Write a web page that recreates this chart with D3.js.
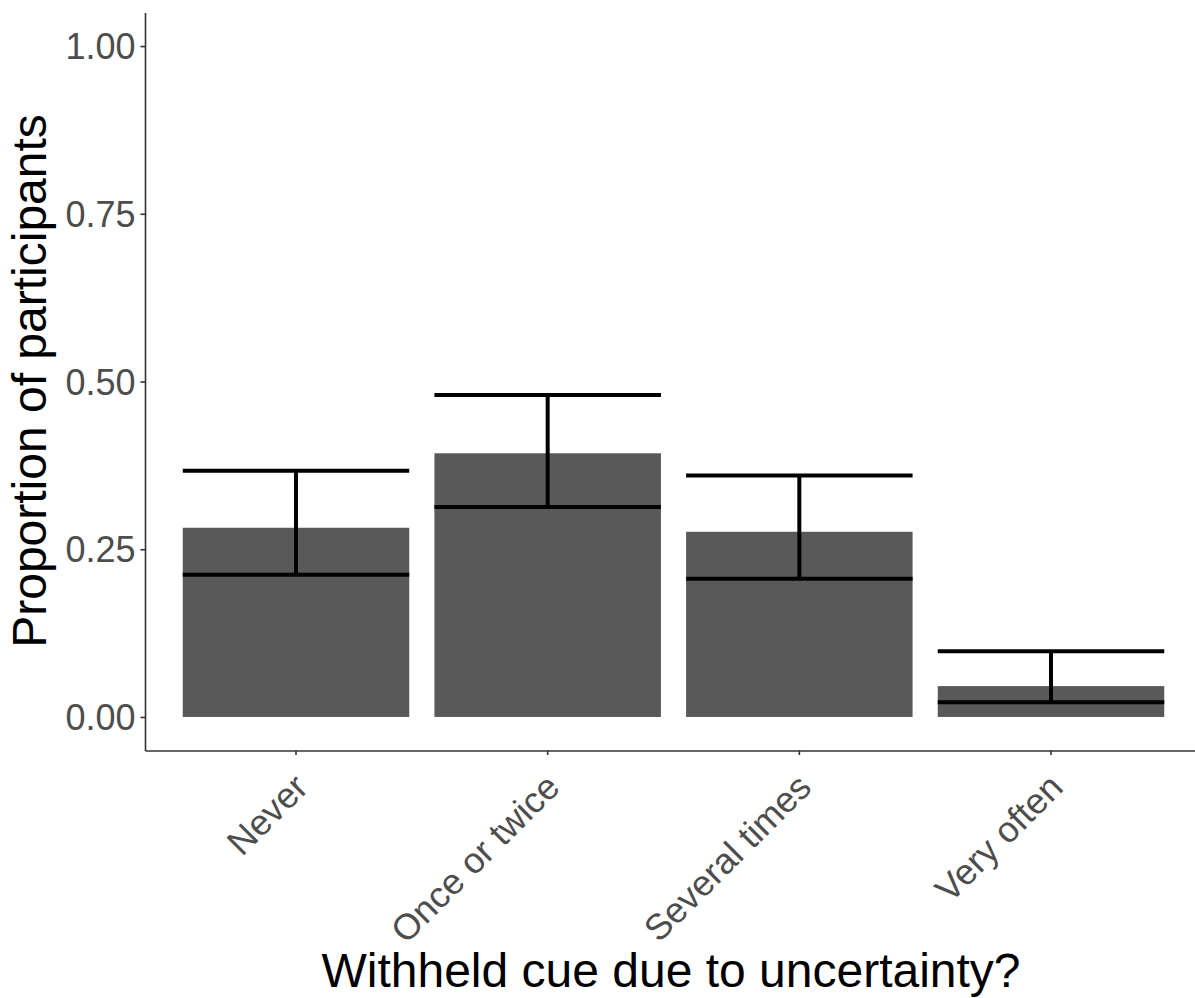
<!DOCTYPE html>
<html>
<head>
<meta charset="utf-8">
<script src="https://cdn.jsdelivr.net/npm/d3@7"></script>
<style>
  body { margin: 0; background: #fff; }
  svg { display: block; font-family: "Liberation Sans", Arial, sans-serif; }
</style>
</head>
<body>
<div class="chart"></div>
<script>
// values
var categories = ["Never", "Once or twice", "Several times", "Very often"];
var proportion = [0.282, 0.393, 0.276, 0.046];
var ciLower = [0.212, 0.313, 0.206, 0.022];
var ciUpper = [0.367, 0.480, 0.360, 0.098];
var yTicks = [0, 0.25, 0.5, 0.75, 1];

var width = 1195, height = 998;

var svg = d3.select(".chart").append("svg")
    .attr("width", width)
    .attr("height", height);

var x = d3.scaleBand()
    .domain(categories)
    .range([145, 1202])
    .paddingInner(0.1)
    .paddingOuter(0.15);

var y = d3.scaleLinear()
    .domain([-0.05, 1.05])
    .range([750.5, 12.5]);

var data = categories.map(function(c, i){
    return {cat: c, p: proportion[i], lo: ciLower[i], hi: ciUpper[i]};
});

// bars
svg.selectAll(".bar")
    .data(data)
    .enter().append("rect")
    .attr("class", "bar")
    .attr("x", function(d){ return x(d.cat); })
    .attr("width", x.bandwidth())
    .attr("y", function(d){ return y(d.p); })
    .attr("height", function(d){ return y(0) - y(d.p); })
    .attr("fill", "#595959");

// error bars
var eb = svg.selectAll(".err")
    .data(data)
    .enter().append("g")
    .attr("class", "err")
    .attr("stroke", "#000")
    .attr("stroke-width", 4);

eb.append("line")
    .attr("x1", function(d){ return x(d.cat) + x.bandwidth() / 2; })
    .attr("x2", function(d){ return x(d.cat) + x.bandwidth() / 2; })
    .attr("y1", function(d){ return y(d.lo); })
    .attr("y2", function(d){ return y(d.hi); });

eb.append("line")
    .attr("x1", function(d){ return x(d.cat); })
    .attr("x2", function(d){ return x(d.cat) + x.bandwidth(); })
    .attr("y1", function(d){ return y(d.hi); })
    .attr("y2", function(d){ return y(d.hi); });

eb.append("line")
    .attr("x1", function(d){ return x(d.cat); })
    .attr("x2", function(d){ return x(d.cat) + x.bandwidth(); })
    .attr("y1", function(d){ return y(d.lo); })
    .attr("y2", function(d){ return y(d.lo); });

// y axis
var yAxis = svg.append("g")
    .attr("transform", "translate(145,0)")
    .call(d3.axisLeft(y).tickValues(yTicks).tickFormat(d3.format(".2f"))
        .tickSizeInner(4.5).tickSizeOuter(0).tickPadding(5));

// x axis
var xAxis = svg.append("g")
    .attr("transform", "translate(0,750.5)")
    .call(d3.axisBottom(x).tickSizeInner(4.5).tickSizeOuter(0));

[xAxis, yAxis].forEach(function(g){
    g.select(".domain").attr("stroke", "#333").attr("stroke-width", 1.6);
    g.selectAll(".tick line").attr("stroke", "#333").attr("stroke-width", 1.6);
    g.selectAll("text").attr("fill", "#4d4d4d").style("font-size", "36px");
});

xAxis.selectAll(".tick text")
    .attr("text-anchor", "end")
    .attr("x", 0)
    .attr("y", 0)
    .attr("dy", "0.9em")
    .attr("transform", "translate(-9,16) rotate(-45)");

yAxis.selectAll(".tick text").attr("dy", "0.35em");

// axis titles
svg.append("text")
    .attr("x", 671)
    .attr("y", 987)
    .attr("text-anchor", "middle")
    .style("font-size", "48px")
    .attr("fill", "#000")
    .text("Withheld cue due to uncertainty?");

svg.append("text")
    .attr("transform", "translate(46,381) rotate(-90)")
    .attr("text-anchor", "middle")
    .style("font-size", "48px")
    .attr("fill", "#000")
    .text("Proportion of participants");
</script>
</body>
</html>
